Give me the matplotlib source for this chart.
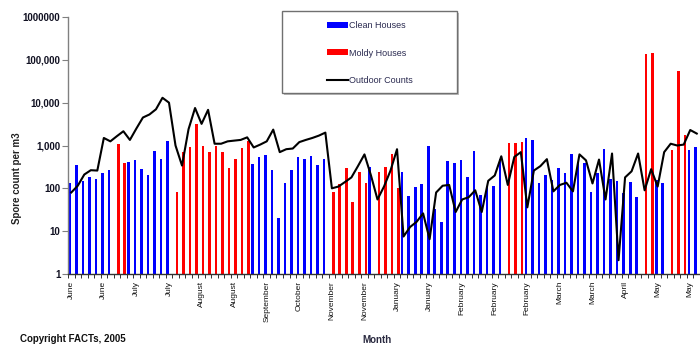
import numpy as np
import matplotlib
matplotlib.use("Agg")
import matplotlib.pyplot as plt
from matplotlib.patches import Rectangle, Patch
from matplotlib.lines import Line2D

N = np.nan
tick_labels = ["June", "June", "July", "July", "August", "August", "September",
               "October", "November", "November", "January", "January",
               "February", "February", "February", "March", "March", "April",
               "May", "May"]

clean_houses = [130, 360, 147, 185, 162, 230, 275, N, N, 415, 455, 290, 210, 740, 490, 1290,
                N, N, N, N, N, N, N, N, N, N, N, N,
                365, 550, 585, 265, 20, 130, 275, 540, 480, 570, 360, 480,
                N, N, N, N, N, N,
                317,
                N, N, N, N,
                240, 67, 109, 126, 980, 33, 16.5, 440, 380, 470, 185, 740, 70, 115, 115, 490,
                N, N, N,
                1480, 1350, 130, 210, 160, 300, 230, 650, 400, 400, 83, 222, 850, 162, 147, 76, 142, 63,
                N, N,
                155, 130,
                N, N, N,
                780, 930]

moldy_houses = [N, N, N, N, N, N, N, 1070, 400, N, N, N, N, N, N, N,
                81, 710, 930, 3250, 980, 700, 980, 720, 300, 490, 880, 1290,
                N, N, N, N, N, N, N, N, N, N, N, N,
                81, 124, 300, 48, 245, 130,
                N,
                240, 317, 650, 103,
                N, N, N, N, N, N, N, N, N, N, N, N, N, N, N, N,
                1170, 1170, 1210,
                N, N, N, N, N, N, N, N, N, N, N, N, N, N, N, N, N, N,
                139000, 147000,
                N, N,
                780, 55000, 1800,
                N, N]

outdoor_counts = [80, 115, 210, 265, 260, 1500, 1250, 1650, 2150, 1350, 2500, 4500, 5300, 7000,
                  13000, 10000, 1000, 340, 2400, 7500, 3200, 6800, 1100, 1100, 1250, 1300,
                  1350, 1550, 900, 1050, 1250, 2350, 700, 820, 850, 1200, 1350, 1500, 1700, 2000,
                  100, 110, 140, 180, 330, 620, 200, 55, 110, 260, 820, 7.5, 12.5, 16.5, 26, 6.5,
                  80, 115, 120, 28, 55, 62, 90, 28, 150, 200, 560, 120, 540, 700, 36, 260, 330,
                  480, 85, 120, 135, 85, 620, 450, 130, 470, 55, 650, 2.1, 180, 250, 650, 90, 280,
                  110, 700, 1100, 1000, 1050, 2300, 1900]

plt.rcParams['font.family'] = ['Liberation Sans', 'DejaVu Sans']

fig = plt.figure(figsize=(7.0, 3.45), dpi=100)
ax = fig.add_axes([68 / 700, 71 / 345, 1 - 68 / 700, (274 - 17) / 345])

x = np.arange(len(outdoor_counts))
ax.bar(x - 0.21, clean_houses, width=0.4, color='#0000FF', bottom=0, zorder=2)
ax.bar(x + 0.21, moldy_houses, width=0.4, color='#FF0000', bottom=0, zorder=2)
ax.plot(x, outdoor_counts, color='black', lw=1.5, zorder=3, solid_joinstyle='round')

ax.set_yscale('log')
ax.set_ylim(1, 1e6)
ax.set_xlim(-0.5, 96.2)
yt = [1, 10, 100, 1000, 10000, 100000, 1000000]
ax.set_yticks(yt)
ax.set_yticklabels(["1", "10", "100", "1,000", "10,000", "100,000", "1000000"],
                   fontsize=7, fontweight='bold', color='#111122')
ax.yaxis.set_minor_locator(matplotlib.ticker.NullLocator())
ax.tick_params(axis='y', which='major', length=4, width=0.8, color='#808080', pad=1.5)

ax.set_xticks(x[::5])
ax.set_xticklabels(tick_labels, rotation=90, fontsize=6, color='#111111')
ax.set_xticks(np.arange(-0.5, len(outdoor_counts) + 0.5, 1.0), minor=True)
ax.tick_params(axis='x', which='major', length=0, pad=5)
ax.tick_params(axis='x', which='minor', length=3, width=0.7, color='#333333')

for s in ['top', 'right']:
    ax.spines[s].set_visible(False)
ax.spines['left'].set_color('#808080')
ax.spines['bottom'].set_color('#333333')
ax.spines['left'].set_linewidth(1.0)
ax.spines['bottom'].set_linewidth(1.0)

fig.text(17 / 700, 1 - 178 / 345, "Spore count per m3", rotation=90, ha='center', va='center',
         fontsize=7, fontweight='bold', color='#222222')
fig.text(377 / 700, 1 - 340 / 345, "Month", ha='center', va='center', fontsize=7,
         fontweight='bold', color='#2a2a40')
fig.text(20 / 700, 1 - 339 / 345, "Copyright FACTs, 2005", ha='left', va='center', fontsize=7,
         fontweight='bold', color='#111111')

# legend box
fig.patches.append(Rectangle((284 / 700, 1 - 95 / 345), (457 - 282) / 700, (93 - 11) / 345,
                             transform=fig.transFigure, facecolor='#bbbbbb', edgecolor='none',
                             zorder=4))
fig.patches.append(Rectangle((282 / 700, 1 - 93 / 345), (457 - 282) / 700, (93 - 11) / 345,
                             transform=fig.transFigure, facecolor='white', edgecolor='#707070',
                             lw=1.0, zorder=5))
handles = [Patch(facecolor='#0000FF', edgecolor='none'),
           Patch(facecolor='#FF0000', edgecolor='none'),
           Line2D([0], [0], color='black', lw=1.5)]
leg = fig.legend(handles, ["Clean Houses", "Moldy Houses", "Outdoor Counts"],
                 loc='center', bbox_to_anchor=(370 / 700, 1 - 53 / 345),
                 bbox_transform=fig.transFigure, frameon=False, fontsize=6.5,
                 handlelength=2.3, handleheight=0.6, handletextpad=0.1, labelspacing=2.0)
leg.set_zorder(6)
for t in leg.get_texts():
    t.set_color('#2a2a50')

fig.savefig("out.png", dpi=100, facecolor='white')
